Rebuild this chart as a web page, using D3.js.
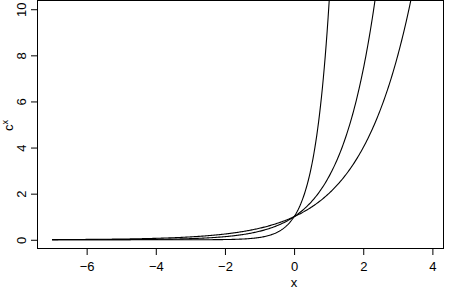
<!DOCTYPE html>
<html>
<head>
<meta charset="utf-8">
<script src="https://cdn.jsdelivr.net/npm/d3@7"></script>
<style>
  body { margin: 0; background: white; }
  text { font-family: "Liberation Sans", Arial, sans-serif; }
</style>
</head>
<body>
<svg></svg>
<script>
const svgWidth = 449
const svgHeight = 289
const margins = { top: 0, bottom: 40, left: 37, right: 5 } // plot box edges
const plotWidth = svgWidth - margins.left - margins.right
const plotHeight = svgHeight - margins.top - margins.bottom

// bases of the curves c^x
const bases = [2, Math.E, 10]
const xRange = [-7, 3.9]
const xTicks = [-6, -4, -2, 0, 2, 4]
const yTicks = [0, 2, 4, 6, 8, 10]

const svg = d3.select("svg")
    .attr("width", svgWidth)
    .attr("height", svgHeight)

const xScale = d3.scaleLinear()
    .domain([-7.436, 4.336])
    .range([0, plotWidth])
const yScale = d3.scaleLinear()
    .domain([-0.4, 10.4])
    .range([plotHeight, 0])

const plotGroup = svg.append("g")
    .attr("transform", `translate(${margins.left},${margins.top})`)

plotGroup.append("clipPath")
    .attr("id", "clip")
    .append("rect")
    .attr("width", plotWidth)
    .attr("height", plotHeight)

const line = d3.line()
    .x((d) => xScale(d[0]))
    .y((d) => yScale(d[1]))

const n = 400
bases.forEach((c) => {
    const pts = d3.range(n + 1).map((i) => {
        const x = xRange[0] + (xRange[1] - xRange[0]) * i / n
        return [x, Math.pow(c, x)]
    })
    plotGroup.append("path")
        .datum(pts)
        .attr("d", line)
        .attr("clip-path", "url(#clip)")
        .attr("fill", "none")
        .attr("stroke", "black")
        .attr("stroke-width", 1.1)
})

plotGroup.append("rect")
    .attr("x", 0.5)
    .attr("y", 0.5)
    .attr("width", plotWidth - 1)
    .attr("height", plotHeight - 1)
    .attr("fill", "none")
    .attr("stroke", "black")

const xAxis = svg.append("g")
    .attr("transform", `translate(${margins.left},${margins.top + plotHeight})`)
    .call(d3.axisBottom(xScale).tickValues(xTicks).tickSize(6).tickPadding(7)
        .tickFormat((d) => d < 0 ? "\u2212" + Math.abs(d) : d))
xAxis.select(".domain").remove()
xAxis.selectAll("text").attr("font-size", 13).attr("font-family", "Liberation Sans, Arial, sans-serif")

const yAxis = svg.append("g")
    .attr("transform", `translate(${margins.left},${margins.top})`)
    .call(d3.axisLeft(yScale).tickValues(yTicks).tickSize(6).tickPadding(0))
yAxis.select(".domain").remove()
yAxis.selectAll("text")
    .attr("font-size", 13)
    .attr("font-family", "Liberation Sans, Arial, sans-serif")
    .attr("text-anchor", "middle")
    .attr("dy", null)
    .attr("x", null)
    .attr("transform", "translate(-16,0) rotate(-90)")
    .attr("dominant-baseline", "central")

svg.append("text")
    .text("x")
    .attr("x", margins.left + xScale(0))
    .attr("y", 287)
    .attr("text-anchor", "middle")
    .attr("font-size", 13)

const ylab = svg.append("text")
    .attr("transform", `translate(13,${yScale(5) + 1}) rotate(-90)`)
    .attr("text-anchor", "middle")
    .attr("font-size", 13)
ylab.append("tspan").text("c")
ylab.append("tspan").text("x").attr("font-size", 9).attr("dy", -5)
</script>
</body>
</html>
